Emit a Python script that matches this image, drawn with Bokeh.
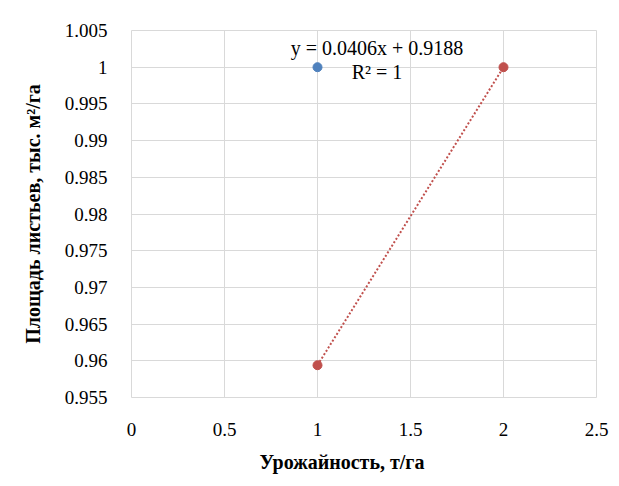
import numpy as np
from bokeh.plotting import figure
from bokeh.models import Label, FixedTicker, Title
from bokeh.embed import file_html
from bokeh.resources import INLINE

# Data
blue_x = [1.0]
blue_y = [1.0]
red_x = [1.0, 2.0]
red_y = [0.9594, 1.0]
x_ticks = [0, 0.5, 1, 1.5, 2, 2.5]
y_ticks = [0.955, 0.96, 0.965, 0.97, 0.975, 0.98, 0.985, 0.99, 0.995, 1.0, 1.005]
x_tick_labels = {0: "0", 0.5: "0.5", 1: "1", 1.5: "1.5", 2: "2", 2.5: "2.5"}
y_tick_labels = {0.955: "0.955", 0.96: "0.96", 0.965: "0.965", 0.97: "0.97", 0.975: "0.975",
                 0.98: "0.98", 0.985: "0.985", 0.99: "0.99", 0.995: "0.995", 1.0: "1", 1.005: "1.005"}
eq_text = "y = 0.0406x + 0.9188"
r2_text = "R² = 1"
x_title = "Урожайность, т/га"
y_title = "Площадь листьев, тыс. м²/га"

SERIF = "Liberation Serif"
GRID = "#d9d9d9"
BLUE = "#4F81BD"
RED = "#C0504D"

p = figure(width=611, height=483, x_range=(0, 2.5), y_range=(0.955, 1.005),
           output_backend="svg", toolbar_location=None,
           min_border_left=131, min_border_top=30, min_border_right=15, min_border_bottom=86)
p.outline_line_color = GRID

for ax in (p.xaxis, p.yaxis):
    ax.major_tick_line_color = None
    ax.minor_tick_line_color = None
    ax.axis_line_color = None
    ax.major_label_text_font = SERIF
    ax.major_label_text_font_size = "19px"
    ax.major_label_text_color = "#000000"
    ax.axis_label_text_font = SERIF
    ax.axis_label_text_font_style = "bold"
    ax.axis_label_text_font_size = "20px"
    ax.axis_label_text_color = "#000000"

p.xaxis.ticker = FixedTicker(ticks=x_ticks)
p.yaxis.ticker = FixedTicker(ticks=y_ticks)
p.xaxis.major_label_overrides = x_tick_labels
p.yaxis.major_label_overrides = y_tick_labels
p.yaxis.axis_label = y_title
p.xaxis.major_label_standoff = 19
p.yaxis.major_label_standoff = 18
p.yaxis.axis_label_standoff = 18

p.add_layout(Title(text=x_title, align="left", offset=128, standoff=21,
                   text_font=SERIF, text_font_style="bold", text_font_size="20px",
                   text_color="#000000"), "below")

p.xgrid.grid_line_color = GRID
p.ygrid.grid_line_color = GRID

# trendline (linear fit of red series)
slope, intercept = np.polyfit(red_x, red_y, 1)
tx = np.array([min(red_x), max(red_x)])
p.line(tx, slope * tx + intercept, line_color=RED, line_width=2, line_dash="2 2")

p.scatter(blue_x, blue_y, size=9, fill_color=BLUE, line_color=BLUE)
p.scatter(red_x, red_y, size=9, fill_color=RED, line_color=RED)

eq_pos = (1.32, 1.00255)
r2_pos = (1.32, 0.99928)
p.add_layout(Label(x=eq_pos[0], y=eq_pos[1], text=eq_text, text_font=SERIF, text_font_size="20px",
                   text_align="center", text_baseline="middle", text_color="#000000"))
p.add_layout(Label(x=r2_pos[0], y=r2_pos[1], text=r2_text, text_font=SERIF, text_font_size="20px",
                   text_align="center", text_baseline="middle", text_color="#000000"))

open("out.html", "w").write(file_html(p, INLINE))
